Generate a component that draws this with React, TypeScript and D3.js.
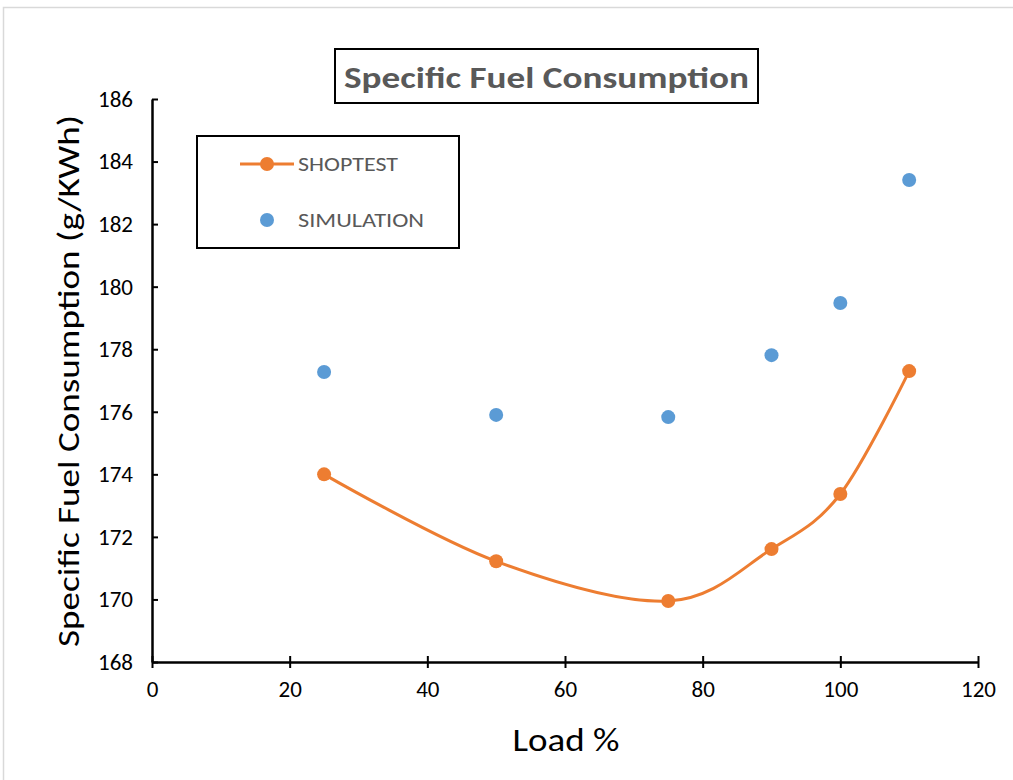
import { useEffect, useRef } from "react";
import * as d3 from "d3";

const loads = [25, 50, 75, 90, 100, 110];
const shoptest = [174.0, 171.22, 169.95, 171.61, 173.37, 177.3];
const simulation = [177.27, 175.9, 175.83, 177.81, 179.48, 183.41];
const xTicks = [0, 20, 40, 60, 80, 100, 120];
const yTicks = [168, 170, 172, 174, 176, 178, 180, 182, 184, 186];

const FONT = "Carlito, Calibri, 'Open Sans', 'Noto Sans', sans-serif";

const FuelChart = () => {
  const ref = useRef<HTMLDivElement>(null);

  useEffect(() => {
    const W = 1013;
    const H = 780;
    const left = 152, right = 978, top = 99, bottom = 662;

    d3.select(ref.current).selectAll("*").remove();
    const svg = d3
      .select(ref.current)
      .append("svg")
      .attr("width", W)
      .attr("height", H)
      .style("display", "block");

    svg.append("rect").attr("width", W).attr("height", H).attr("fill", "#fff");
    // outer chart frame
    svg
      .append("rect")
      .attr("x", 3.5)
      .attr("y", 7.5)
      .attr("width", W + 10)
      .attr("height", H)
      .attr("fill", "none")
      .attr("stroke", "#d9d9d9")
      .attr("stroke-width", 1.5);

    const x = d3.scaleLinear().domain([0, 120]).range([left, right]);
    const y = d3.scaleLinear().domain([168, 186]).range([bottom, top]);

    // axes with ticks crossing the line
    const xAxis = svg
      .append("g")
      .attr("transform", `translate(0,${bottom})`)
      .call(d3.axisBottom(x).tickValues(xTicks).tickSizeInner(6).tickSizeOuter(0).tickPadding(13));
    xAxis.select(".domain").attr("stroke", "#000").attr("stroke-width", 2.5);
    xAxis.selectAll(".tick line").attr("y1", -6).attr("stroke", "#000").attr("stroke-width", 2);
    xAxis
      .selectAll("text")
      .attr("font-family", FONT)
      .attr("font-size", 23)
      .attr("fill", "#000");

    const yAxis = svg
      .append("g")
      .attr("transform", `translate(${left},0)`)
      .call(d3.axisLeft(y).tickValues(yTicks).tickSizeInner(6).tickSizeOuter(0).tickPadding(13));
    yAxis.select(".domain").attr("stroke", "#000").attr("stroke-width", 2.5);
    yAxis.selectAll(".tick line").attr("x2", 6).attr("stroke", "#000").attr("stroke-width", 2);
    yAxis
      .selectAll("text")
      .attr("font-family", FONT)
      .attr("font-size", 23)
      .attr("fill", "#000");

    // title
    svg
      .append("rect")
      .attr("x", 335)
      .attr("y", 49)
      .attr("width", 423)
      .attr("height", 54)
      .attr("fill", "#fff")
      .attr("stroke", "#000")
      .attr("stroke-width", 2);
    svg
      .append("text")
      .attr("x", 546.5)
      .attr("y", 88)
      .attr("text-anchor", "middle")
      .attr("font-family", FONT)
      .attr("font-size", 30)
      .attr("font-weight", "bold")
      .attr("fill", "#595959")
      .attr("textLength", 405)
      .attr("lengthAdjust", "spacingAndGlyphs")
      .text("Specific Fuel Consumption");

    // axis titles
    svg
      .append("text")
      .attr("transform", `translate(79,381) rotate(-90)`)
      .attr("text-anchor", "middle")
      .attr("font-family", FONT)
      .attr("font-size", 31)
      .attr("fill", "#000")
      .attr("textLength", 532)
      .attr("lengthAdjust", "spacingAndGlyphs")
      .text("Specific Fuel Consumption (g/KWh)");
    svg
      .append("text")
      .attr("x", 566)
      .attr("y", 751)
      .attr("text-anchor", "middle")
      .attr("font-family", FONT)
      .attr("font-size", 33)
      .attr("fill", "#000")
      .attr("textLength", 107)
      .attr("lengthAdjust", "spacingAndGlyphs")
      .text("Load %");

    // shoptest smoothed line
    const pts: [number, number][] = loads.map((l, i) => [l, shoptest[i]]);
    const line = d3
      .line<[number, number]>()
      .x((d) => x(d[0]))
      .y((d) => y(d[1]))
      .curve(d3.curveCardinal.tension(0));
    svg
      .append("path")
      .datum(pts)
      .attr("d", line)
      .attr("fill", "none")
      .attr("stroke", "#ED7D31")
      .attr("stroke-width", 3);
    svg
      .selectAll(".shop")
      .data(pts)
      .enter()
      .append("circle")
      .attr("cx", (d) => x(d[0]))
      .attr("cy", (d) => y(d[1]))
      .attr("r", 7)
      .attr("fill", "#ED7D31");

    svg
      .selectAll(".sim")
      .data(loads)
      .enter()
      .append("circle")
      .attr("cx", (d) => x(d))
      .attr("cy", (d, i) => y(simulation[i]))
      .attr("r", 7)
      .attr("fill", "#5B9BD5");

    // legend
    const lg = svg.append("g");
    lg.append("rect")
      .attr("x", 197)
      .attr("y", 136)
      .attr("width", 262)
      .attr("height", 112)
      .attr("fill", "#fff")
      .attr("stroke", "#000")
      .attr("stroke-width", 2);
    lg.append("line")
      .attr("x1", 240)
      .attr("x2", 294)
      .attr("y1", 164)
      .attr("y2", 164)
      .attr("stroke", "#ED7D31")
      .attr("stroke-width", 3);
    lg.append("circle").attr("cx", 267).attr("cy", 164).attr("r", 7).attr("fill", "#ED7D31");
    lg.append("circle").attr("cx", 267).attr("cy", 220).attr("r", 7).attr("fill", "#5B9BD5");
    lg.append("text")
      .attr("x", 298)
      .attr("y", 171)
      .attr("font-family", FONT)
      .attr("font-size", 21)
      .attr("fill", "#595959")
      .attr("textLength", 100)
      .attr("lengthAdjust", "spacingAndGlyphs")
      .text("SHOPTEST");
    lg.append("text")
      .attr("x", 298)
      .attr("y", 227)
      .attr("font-family", FONT)
      .attr("font-size", 21)
      .attr("fill", "#595959")
      .attr("textLength", 126)
      .attr("lengthAdjust", "spacingAndGlyphs")
      .text("SIMULATION");
  }, []);

  return <div ref={ref} style={{ position: "absolute", left: 0, top: 0 }}></div>;
};

export default function App() {
  return <FuelChart />;
}
